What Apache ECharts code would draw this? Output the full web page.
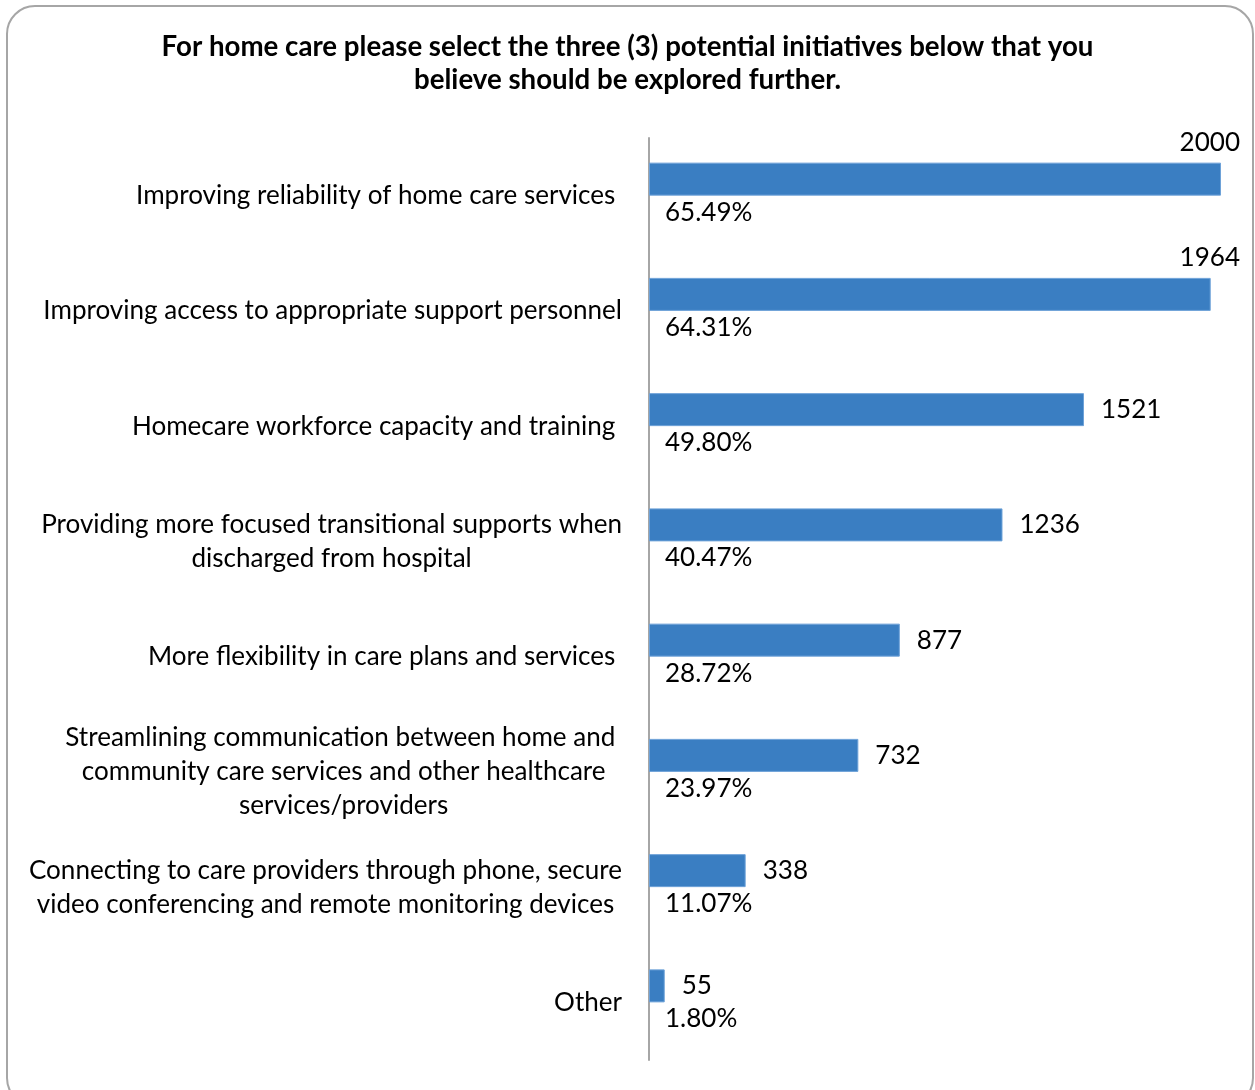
<!DOCTYPE html>
<html>
<head>
<meta charset="utf-8">
<title>Home care initiatives</title>
<script src="https://cdn.jsdelivr.net/npm/echarts@6/dist/echarts.min.js"></script>
<style>
  html, body { margin: 0; padding: 0; background: #ffffff; }
  #chart { width: 1255px; height: 1090px; }
</style>
</head>
<body>
<div id="chart"></div>
<script>
// Survey answers: initiatives chosen for home care (respondents could pick three)
const categories = [
  'Improving reliability of home care services ',
  'Improving access to appropriate support personnel',
  'Homecare workforce capacity and training ',
  'Providing more focused transitional supports when\ndischarged from hospital',
  'More flexibility in care plans and services ',
  'Streamlining communication between home and \ncommunity care services and other healthcare\nservices/providers',
  'Connecting to care providers through phone, secure\nvideo conferencing and remote monitoring devices',
  'Other'
];
const counts = [2000, 1964, 1521, 1236, 877, 732, 338, 55];
const percents = [65.49, 64.31, 49.80, 40.47, 28.72, 23.97, 11.07, 1.80];

const titleText = 'For home care please select the three (3) potential initiatives below that you\nbelieve should be explored further.';

// Typeface and size: scale so a reference line keeps its intended width
const FONT = 'Lato';
function fitSize(text, targetWidth, weight) {
  const ctx = document.createElement('canvas').getContext('2d');
  ctx.font = (weight || 'normal') + ' 100px ' + FONT;
  return 100 * targetWidth / ctx.measureText(text).width;
}
const bodySize = fitSize('Providing more focused transitional supports when', 581);
const titleSize = fitSize('For home care please select the three (3) potential initiatives below that you', 932, 'bold');

const BAR_BLUE = '#3a7ec2';
const GRID = { left: 649, top: 138, width: 572, height: 922 };
const LABEL_LIMIT = 1240; // value labels may not run past this x

const chart = echarts.init(document.getElementById('chart'), null, { renderer: 'canvas' });

chart.setOption({
  backgroundColor: '#ffffff',
  animation: false,
  textStyle: { fontFamily: FONT },
  title: {
    text: titleText,
    left: 'center',
    top: 31,
    padding: [0, 0, 0, 7],
    textStyle: {
      fontFamily: FONT,
      fontWeight: 'bold',
      fontSize: titleSize,
      lineHeight: 33,
      color: '#000000'
    }
  },
  graphic: [{
    type: 'rect',
    silent: true,
    z: -10,
    shape: { x: 7, y: 6, width: 1246, height: 1100, r: 28 },
    style: { fill: null, stroke: '#a6a6a6', lineWidth: 2 }
  }],
  grid: Object.assign({ containLabel: false }, GRID),
  xAxis: {
    type: 'value',
    min: 0,
    max: 2000,
    show: false,
    splitLine: { show: false }
  },
  yAxis: {
    type: 'category',
    inverse: true,
    data: categories,
    axisLine: { show: true, lineStyle: { color: '#a6a6a6', width: 2 } },
    axisTick: { show: false },
    splitLine: { show: false },
    axisLabel: {
      margin: 27,
      align: 'right',
      formatter: function (v) {
        return v.split('\n').map(function (line) { return '{c|' + line + '}'; }).join('\n');
      },
      rich: {
        c: {
          align: 'center',
          fontFamily: FONT,
          fontSize: bodySize,
          lineHeight: 34,
          color: '#000000'
        }
      }
    }
  },
  series: [
    {
      name: 'Responses',
      type: 'bar',
      data: counts,
      barWidth: 33,
      barGap: '0%',
      itemStyle: { color: BAR_BLUE, borderColor: '#6ea2d8', borderWidth: 1 },
      label: {
        show: true,
        position: 'right',
        distance: 17,
        fontFamily: FONT,
        fontSize: bodySize,
        color: '#000000'
      },
      // labels that would run past the plot area sit above the bar end instead
      labelLayout: function (p) {
        if (p.labelRect.x + p.labelRect.width <= LABEL_LIMIT) return {};
        return { x: LABEL_LIMIT, y: p.rect.y - 20, align: 'right', verticalAlign: 'middle' };
      }
    },
    {
      name: 'Share',
      type: 'bar',
      data: percents,
      barWidth: 33,
      barGap: '0%',
      silent: true,
      itemStyle: { color: 'rgba(0,0,0,0)' },
      label: {
        show: true,
        position: 'insideLeft',
        distance: 16,
        fontFamily: FONT,
        fontSize: bodySize,
        color: '#000000',
        formatter: function (p) { return p.value.toFixed(2) + '%'; }
      }
    }
  ]
});
</script>
</body>
</html>
